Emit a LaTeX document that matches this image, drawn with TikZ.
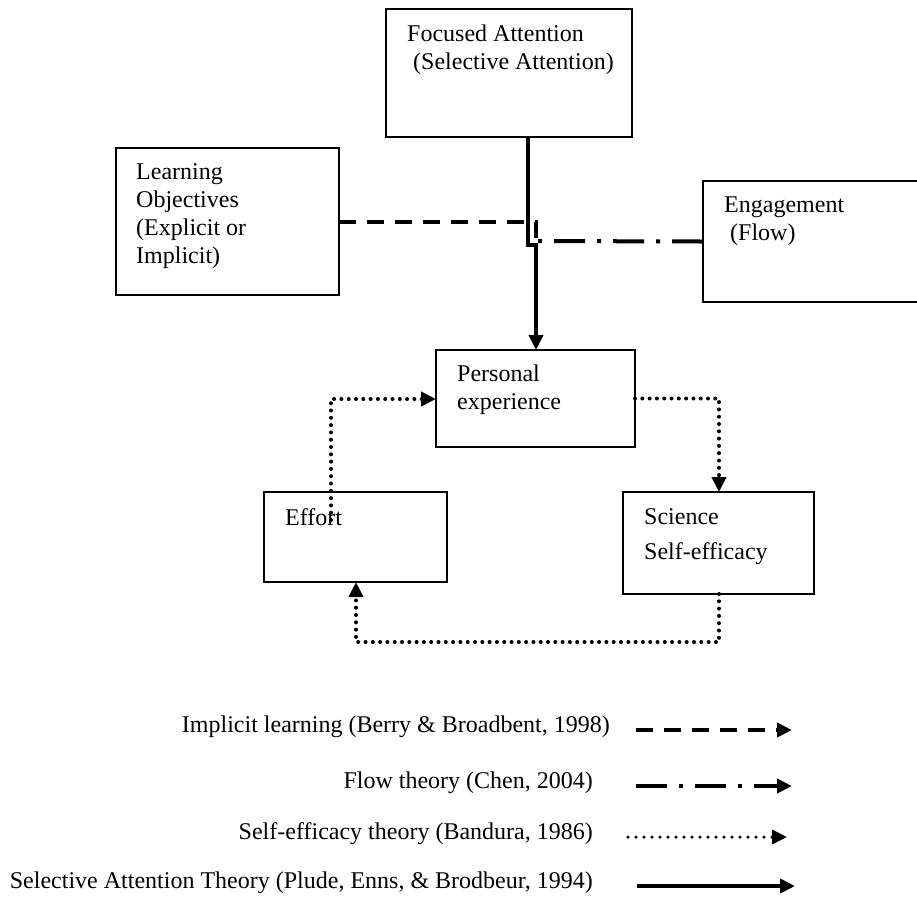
\documentclass[tikz,border=0pt]{standalone}
\usepackage{fontspec}
\setmainfont{Liberation Serif}
\usetikzlibrary{arrows.meta}
\begin{document}
\begin{tikzpicture}[x=1pt, y=-1pt,
  box/.style={draw, line width=2pt, rectangle, inner sep=0pt, outer sep=0pt},
  boxtext/.style={anchor=north west, inner sep=0pt, align=left, font=\fontsize{24}{28}\selectfont},
  legendtext/.style={anchor=mid east, inner sep=0pt, font=\fontsize{24}{28}\selectfont},
  tip/.style={-{Triangle[length=15pt,width=14pt]}},
  solidlink/.style={line width=4pt},
  dashedlink/.style={line width=4pt, dash pattern=on 17pt off 11pt},
  flowlink/.style={line width=4pt, dash pattern=on 31pt off 12pt on 4pt off 12pt},
  dottedlink/.style={line width=4pt, line cap=round, dash pattern=on 0pt off 7.3pt},
]
\clip (0,0) rectangle (917,898);
\fill[white] (0,0) rectangle (917,898);

% concept boxes
\node[box, minimum width=246pt, minimum height=128pt] (fa) at (509,73) {};
\node[box, minimum width=223pt, minimum height=147pt] (lo) at (227.5,221.5) {};
\node[box, minimum width=224pt, minimum height=121pt] (eng) at (815,241.5) {};
\node[box, minimum width=199pt, minimum height=97pt] (pe) at (535.5,398.5) {};
\node[box, minimum width=183pt, minimum height=90pt] (eff) at (355.5,537) {};
\node[box, minimum width=191pt, minimum height=102pt] (sci) at (718.5,543) {};

% box captions
\node[boxtext] (fatext) at (407,25) {Focused Attention\\\hspace*{6pt}(Selective Attention)};
\node[boxtext] (lotext) at (136,163) {Learning\\Objectives\\(Explicit or\\Implicit)};
\node[boxtext] (engtext) at (724,197) {Engagement\\\hspace*{6pt}(Flow)};
\node[boxtext] (petext) at (457,365) {Personal\\experience};
\node[boxtext] (efftext) at (285,508) {Effort};
\node[boxtext, font=\fontsize{24}{35}\selectfont] (scitext) at (644,508) {Science\\Self-efficacy};

% selective attention: focused attention -> personal experience
\coordinate (bendA) at (528,245);
\coordinate (bendB) at (536,245);
\draw[solidlink, tip] (fa.south -| bendA) -- (bendA) -- (bendB) -- (bendB |- pe.north);

% implicit learning and flow join the attention line
\coordinate (merge) at (536,241);
\draw[dashedlink] (lo.east) -- (lo.east -| merge) -- (merge);
\draw[flowlink] (eng.west) -- (merge);

% self-efficacy loop
\coordinate (effUp) at (331,520);
\coordinate (effCorner) at (331,399);
\draw[dottedlink, tip] (effUp) -- (effCorner) -- (effCorner -| pe.west);
\coordinate (sciCorner) at (719,398.5);
\draw[dottedlink, tip] (pe.east) -- (sciCorner) -- (sciCorner |- sci.north);
\coordinate (loopR) at (719,642);
\coordinate (loopL) at (356,642);
\draw[dottedlink, tip] (sci.south -| loopR) -- (loopR) -- (loopL) -- (loopL |- eff.south);

% legend
\node[legendtext] (lg1) at (610,730) {Implicit learning (Berry \& Broadbent, 1998)};
\node[legendtext] (lg2) at (593,786) {Flow theory (Chen, 2004)};
\node[legendtext] (lg3) at (593,837) {Self-efficacy theory (Bandura, 1986)};
\node[legendtext] (lg4) at (593,886) {Selective Attention Theory (Plude, Enns, \& Brodbeur, 1994)};

\coordinate (k1s) at (636,730); \coordinate (k1e) at (792,730);
\coordinate (k2s) at (636,786); \coordinate (k2e) at (792,786);
\coordinate (k3s) at (628,837); \coordinate (k3e) at (787,837);
\coordinate (k4s) at (637,886); \coordinate (k4e) at (795,886);
\draw[dashedlink, tip] (k1s) -- (k1e);
\draw[flowlink, tip] (k2s) -- (k2e);
\draw[dottedlink, line width=3.5pt, dash pattern=on 0pt off 8pt, tip] (k3s) -- (k3e);
\draw[solidlink, tip] (k4s) -- (k4e);
\end{tikzpicture}
\end{document}
